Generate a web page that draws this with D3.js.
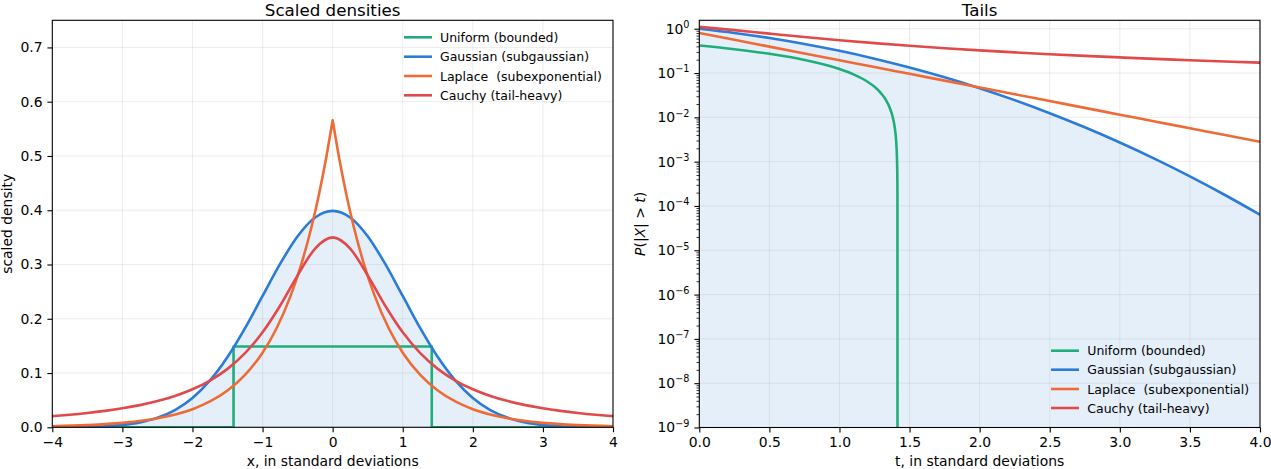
<!DOCTYPE html>
<html><head><meta charset="utf-8">
<script src="https://cdn.jsdelivr.net/npm/d3@7"></script>
<style>body{margin:0;background:#fff} text{font-family:"DejaVu Sans",sans-serif}</style>
</head><body><svg id="c" width="1271" height="469"></svg>
<script>
// ---------- data ----------
const seriesNames = ["Uniform (bounded)", "Gaussian (subgaussian)", "Laplace  (subexponential)", "Cauchy (tail-heavy)"];
const seriesColors = ["#1fae7a", "#2b7bd8", "#ee6b35", "#e04a4a"];

// left panel: scaled densities
const densX = [-4,-3.75,-3.5,-3.25,-3,-2.75,-2.5,-2.25,-2,-1.75,-1.5,-1.25,-1,-0.75,-0.5,-0.25,0,0.25,0.5,0.75,1,1.25,1.5,1.75,2,2.25,2.5,2.75,3,3.25,3.5,3.75,4];
const gaussDens = [0.000134,0.00035,0.00087,0.00203,0.00443,0.0091,0.0175,0.0317,0.054,0.0863,0.1295,0.1826,0.242,0.3011,0.3521,0.3867,0.3989,0.3867,0.3521,0.3011,0.242,0.1826,0.1295,0.0863,0.054,0.0317,0.0175,0.0091,0.00443,0.00203,0.00087,0.00035,0.000134];
const cauchyDens = [0.0206,0.0232,0.0264,0.0303,0.035,0.0409,0.0483,0.0577,0.07,0.0862,0.1077,0.1366,0.175,0.224,0.28,0.3294,0.35,0.3294,0.28,0.224,0.175,0.1366,0.1077,0.0862,0.07,0.0577,0.0483,0.0409,0.035,0.0303,0.0264,0.0232,0.0206];
const lapX = [-4,-3.5,-3,-2.5,-2,-1.75,-1.5,-1.25,-1,-0.8,-0.6,-0.45,-0.3,-0.2,-0.1,0,0.1,0.2,0.3,0.45,0.6,0.8,1,1.25,1.5,1.75,2,2.5,3,3.5,4];
const lapDens = [0.00197,0.00401,0.00813,0.0165,0.0334,0.0476,0.0678,0.0966,0.1375,0.1825,0.2421,0.2994,0.3701,0.4263,0.4911,0.5657,0.4911,0.4263,0.3701,0.2994,0.2421,0.1825,0.1375,0.0966,0.0678,0.0476,0.0334,0.0165,0.00813,0.00401,0.00197];
const unifX = [-4,-1.414,-1.414,1.414,1.414,4];
const unifDens = [0,0,0.149,0.149,0,0];

// right panel: tails P(|X| > t)
const tailT = [0,0.25,0.5,0.75,1,1.25,1.5,1.75,2,2.25,2.5,2.75,3,3.25,3.5,3.75,4];
const gaussTail = [1.0,0.8026,0.6171,0.4533,0.3173,0.2113,0.1336,0.0801,0.0455,0.02445,0.01242,0.00596,0.0027,0.001154,0.000465,0.0001768,0.0000633];
const lapTail = [0.8,0.5618,0.3945,0.277,0.1945,0.1366,0.0959,0.0674,0.0473,0.0332,0.0233,0.01637,0.0115,0.00807,0.00567,0.00398,0.0028];
const cauchyTail = [1.1,0.9285,0.7753,0.6493,0.55,0.4725,0.4117,0.3635,0.3247,0.2928,0.2664,0.2442,0.2253,0.209,0.1949,0.1825,0.1716];
const unifT = [0,0.25,0.5,0.75,1.0,1.1,1.2,1.25,1.3,1.33,1.36,1.38,1.39,1.40,1.405,1.41,1.412,1.4135,1.4142];
const unifTail = [0.42,0.3458,0.2715,0.1973,0.123,0.0933,0.0636,0.04877,0.0339,0.02501,0.0161,0.01015,0.00719,0.00422,0.002734,0.001252,0.000658,0.000212,1e-12];

// ticks
const xTicksL = [-4,-3,-2,-1,0,1,2,3,4];
const yTicksL = [0,0.1,0.2,0.3,0.4,0.5,0.6,0.7];
const xTicksR = [0,0.5,1,1.5,2,2.5,3,3.5,4];
const yDecadesR = [1e-9,1e-8,1e-7,1e-6,1e-5,1e-4,1e-3,1e-2,1e-1,1e0];

// ---------- drawing ----------
const svg = d3.select("#c");
const L = {x0:52.3, x1:613, y0:20.3, y1:427.3};
const R = {x0:699.3, x1:1260, y0:20.3, y1:427.5};
const xL = d3.scaleLinear([-4,4],[L.x0,L.x1]);
const yL = d3.scaleLinear([0,0.75],[L.y1,L.y0]);
const xR = d3.scaleLinear([0,4],[R.x0,R.x1]);
const yR = d3.scaleLog([1e-9,1.55],[R.y1,R.y0]);
const FS = "13.9px", LW = 2.6;

const defs = svg.append("defs");
[["clipL",L],["clipR",R]].forEach(([id,b])=>{
  defs.append("clipPath").attr("id",id).append("rect")
    .attr("x",b.x0).attr("y",b.y0).attr("width",b.x1-b.x0).attr("height",b.y1-b.y0);
});

function grid(g, b, xs, ys, xsc, ysc){
  const gg = g.append("g").attr("stroke","#b0b0b0").attr("stroke-opacity",0.3).attr("stroke-width",0.8);
  xs.forEach(v=>gg.append("line").attr("x1",xsc(v)).attr("x2",xsc(v)).attr("y1",b.y0).attr("y2",b.y1));
  ys.forEach(v=>gg.append("line").attr("y1",ysc(v)).attr("y2",ysc(v)).attr("x1",b.x0).attr("x2",b.x1));
}
function styleAxis(g){
  g.select(".domain").remove();
  g.selectAll(".tick line").attr("stroke","#000").attr("stroke-width",1.1);
  g.selectAll(".tick text").attr("fill","#000").style("font-size",FS).style("font-family","DejaVu Sans");
  g.attr("font-family",null).attr("font-size",null);
}
function legend(hx0,hx1,tx,ys){
  seriesNames.forEach((n,i)=>{
    svg.append("line").attr("x1",hx0).attr("x2",hx1).attr("y1",ys[i]).attr("y2",ys[i])
      .attr("stroke",seriesColors[i]).attr("stroke-width",LW);
    svg.append("text").attr("x",tx).attr("y",ys[i]+4.5).style("font-size","12.5px")
      .attr("fill","#000").attr("xml:space","preserve").style("white-space","pre").text(n);
  });
}

// ---- left panel ----
const gl = svg.append("g");
const plotL = gl.append("g").attr("clip-path","url(#clipL)");
const gaussPts = densX.map((x,i)=>[x,gaussDens[i]]);
plotL.append("path").datum(gaussPts)
  .attr("d", d3.area().x(d=>xL(d[0])).y0(yL(0)).y1(d=>yL(d[1])).curve(d3.curveMonotoneX))
  .attr("fill",seriesColors[1]).attr("fill-opacity",0.12);
grid(plotL, L, xTicksL, yTicksL, xL, yL);
const lineLin = d3.line().x(d=>xL(d[0])).y(d=>yL(d[1])).curve(d3.curveLinear);
const lineMono = d3.line().x(d=>xL(d[0])).y(d=>yL(d[1])).curve(d3.curveMonotoneX);
plotL.append("path").datum(unifX.map((x,i)=>[x,unifDens[i]])).attr("d",lineLin)
  .attr("fill","none").attr("stroke",seriesColors[0]).attr("stroke-width",LW).attr("stroke-linejoin","round");
plotL.append("path").datum(gaussPts).attr("d",lineMono)
  .attr("fill","none").attr("stroke",seriesColors[1]).attr("stroke-width",LW);
// Laplace: smooth on each side, with a cusp at the peak
const lapPts = lapX.map((x,i)=>[x,lapDens[i]]);
const lapLeft = lapPts.filter(d=>d[0]<=0), lapRight = lapPts.filter(d=>d[0]>=0);
const lapPath = lineMono(lapLeft) + lineMono(lapRight).replace(/^M/,"L");
plotL.append("path").attr("d",lapPath)
  .attr("fill","none").attr("stroke",seriesColors[2]).attr("stroke-width",LW).attr("stroke-linejoin","round");
plotL.append("path").datum(densX.map((x,i)=>[x,cauchyDens[i]])).attr("d",lineMono)
  .attr("fill","none").attr("stroke",seriesColors[3]).attr("stroke-width",LW);

const axLx = gl.append("g").attr("transform",`translate(0,${L.y1})`)
  .call(d3.axisBottom(xL).tickValues(xTicksL).tickSize(4.9).tickPadding(4.9).tickFormat(d3.format("d")));
styleAxis(axLx);
const axLy = gl.append("g").attr("transform",`translate(${L.x0},0)`)
  .call(d3.axisLeft(yL).tickValues(yTicksL).tickSize(4.9).tickPadding(4.9).tickFormat(d3.format(".1f")));
styleAxis(axLy);
gl.append("rect").attr("x",L.x0).attr("y",L.y0).attr("width",L.x1-L.x0).attr("height",L.y1-L.y0)
  .attr("fill","none").attr("stroke","#000").attr("stroke-width",1.1);
gl.append("text").attr("x",(L.x0+L.x1)/2).attr("y",15.5).attr("text-anchor","middle").style("font-size","16.7px").text("Scaled densities");
gl.append("text").attr("x",(L.x0+L.x1)/2).attr("y",466).attr("text-anchor","middle").style("font-size",FS).text("x, in standard deviations");
gl.append("text").attr("transform",`translate(12,${(L.y0+L.y1)/2}) rotate(-90)`).attr("text-anchor","middle").style("font-size",FS).text("scaled density");
legend(404,432,440,[37.3,56.7,76,95.3]);

// ---- right panel ----
const gr = svg.append("g");
const plotR = gr.append("g").attr("clip-path","url(#clipR)");
const gTailPts = tailT.map((t,i)=>[t,gaussTail[i]]);
plotR.append("path").datum(gTailPts)
  .attr("d", d3.area().x(d=>xR(d[0])).y0(R.y1).y1(d=>yR(d[1])).curve(d3.curveMonotoneX))
  .attr("fill",seriesColors[1]).attr("fill-opacity",0.12);
grid(plotR, R, xTicksR, yDecadesR, xR, yR);
const lineR = d3.line().x(d=>xR(d[0])).y(d=>yR(d[1])).curve(d3.curveMonotoneX);
[[unifT,unifTail],[tailT,gaussTail],[tailT,lapTail],[tailT,cauchyTail]].forEach(([ts,vs],i)=>{
  plotR.append("path").datum(ts.map((t,j)=>[t,vs[j]])).attr("d",lineR)
    .attr("fill","none").attr("stroke",seriesColors[i]).attr("stroke-width",LW);
});

const axRx = gr.append("g").attr("transform",`translate(0,${R.y1})`)
  .call(d3.axisBottom(xR).tickValues(xTicksR).tickSize(4.9).tickPadding(4.9).tickFormat(d3.format(".1f")));
styleAxis(axRx);
const minors = [];
yDecadesR.forEach(d=>{ for(let k=2;k<=9;k++){ const v=d*k; if(v<=1.55) minors.push(v);} });
const axRm = gr.append("g").attr("transform",`translate(${R.x0},0)`)
  .call(d3.axisLeft(yR).tickValues(minors).tickSize(2.8).tickFormat(()=>""));
axRm.select(".domain").remove();
axRm.selectAll(".tick line").attr("stroke","#000").attr("stroke-width",0.8);
const axRy = gr.append("g").attr("transform",`translate(${R.x0},0)`)
  .call(d3.axisLeft(yR).tickValues(yDecadesR).tickSize(4.9).tickPadding(4.9).tickFormat(()=>""));
styleAxis(axRy);
axRy.selectAll(".tick text").each(function(d){
  const t = d3.select(this);
  t.text(null);
  t.append("tspan").text("10");
  t.append("tspan").attr("dy",-5.7).style("font-size","9.7px").text(d3.format("d")(Math.round(Math.log10(d))));
});
gr.append("rect").attr("x",R.x0).attr("y",R.y0).attr("width",R.x1-R.x0).attr("height",R.y1-R.y0)
  .attr("fill","none").attr("stroke","#000").attr("stroke-width",1.1);
gr.append("text").attr("x",(R.x0+R.x1)/2).attr("y",15.5).attr("text-anchor","middle").style("font-size","16.7px").text("Tails");
gr.append("text").attr("x",(R.x0+R.x1)/2).attr("y",466).attr("text-anchor","middle").style("font-size",FS).text("t, in standard deviations");
const yl = gr.append("text").attr("transform",`translate(645,${(R.y0+R.y1)/2}) rotate(-90)`)
  .attr("text-anchor","middle").style("font-size",FS).attr("xml:space","preserve").style("white-space","pre");
yl.append("tspan").style("font-style","italic").text("P");
yl.append("tspan").text("(|");
yl.append("tspan").style("font-style","italic").text("X");
yl.append("tspan").text("| > ");
yl.append("tspan").style("font-style","italic").text("t");
yl.append("tspan").text(")");
legend(1051,1079,1087.3,[350.7,369.7,389,408]);
</script></body></html>
